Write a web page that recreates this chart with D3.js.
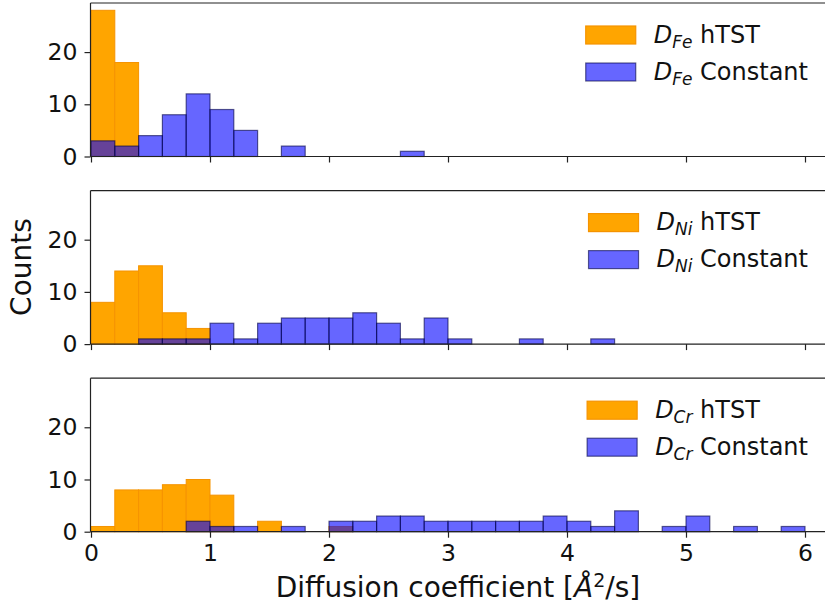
<!DOCTYPE html>
<html><head><meta charset="utf-8">
<script src="https://cdn.jsdelivr.net/npm/d3@7"></script>
<style>body{margin:0;background:#fff}svg{display:block;font-family:"DejaVu Sans",sans-serif}</style>
</head><body><svg id="c" width="825" height="611"></svg>
<script>
const binEdges = d3.range(0, 6.0001, 0.2).map(v => +v.toFixed(1));
const elements = ["Fe", "Ni", "Cr"];
const feHTST  = [28,18,0,0,0,0,0,0,0,0,0,0,0,0,0,0,0,0,0,0,0,0,0,0,0,0,0,0,0,0];
const feConst = [3,2,4,8,12,9,5,0,2,0,0,0,0,1,0,0,0,0,0,0,0,0,0,0,0,0,0,0,0,0];
const niHTST  = [8,14,15,6,3,0,0,0,0,0,0,0,0,0,0,0,0,0,0,0,0,0,0,0,0,0,0,0,0,0];
const niConst = [0,0,1,1,1,4,1,4,5,5,5,6,4,1,5,1,0,0,1,0,0,1,0,0,0,0,0,0,0,0];
const crHTST  = [1,8,8,9,10,7,0,2,0,0,1,0,0,0,0,0,0,0,0,0,0,0,0,0,0,0,0,0,0,0];
const crConst = [0,0,0,0,2,1,1,0,1,0,2,2,3,3,2,2,2,2,2,3,2,1,4,0,1,3,0,1,0,1];
const xTicks = [0,1,2,3,4,5,6];
const yTicks = [0,10,20];
const seriesNames = ["hTST", "Constant"];

const panels = [
  {el: elements[0], h: feHTST, c: feConst},
  {el: elements[1], h: niHTST, c: niConst},
  {el: elements[2], h: crHTST, c: crConst}
];

const svg = d3.select("#c");
const left = 90.5, plotH = 153.5, top0 = 3, step = 187.6;
const x = d3.scaleLinear().domain([0, 6]).range([91, 805]);

panels.forEach((p, i) => {
  const top = top0 + i * step;
  const y = d3.scaleLinear().domain([0, 29.4]).range([top + plotH, top]);
  const g = svg.append("g");
  const bins = binEdges.slice(0, -1).map((b, k) => ({x0: b, x1: binEdges[k + 1], h: p.h[k], c: p.c[k]}));
  g.selectAll("rect.o").data(bins.filter(d => d.h > 0)).join("rect")
    .attr("x", d => x(d.x0)).attr("width", d => x(d.x1) - x(d.x0))
    .attr("y", d => y(d.h)).attr("height", d => y(0) - y(d.h))
    .attr("fill", "#ffa500").attr("stroke", "#f59300").attr("stroke-width", 1);
  g.selectAll("rect.b").data(bins.filter(d => d.c > 0)).join("rect")
    .attr("x", d => x(d.x0)).attr("width", d => x(d.x1) - x(d.x0))
    .attr("y", d => y(d.c)).attr("height", d => y(0) - y(d.c))
    .attr("fill", "#0000ff").attr("fill-opacity", 0.6)
    .attr("stroke", "#000044").attr("stroke-opacity", 0.6).attr("stroke-width", 1.2);

  // spines
  g.append("line").attr("x1", left).attr("x2", 830).attr("y1", top).attr("y2", top).attr("stroke", "#222").attr("stroke-width", 1.2);
  g.append("line").attr("x1", left).attr("x2", left).attr("y1", top).attr("y2", top + plotH).attr("stroke", "#222").attr("stroke-width", 1.2);

  const xa = g.append("g").attr("transform", `translate(0,${top + plotH})`)
    .call(d3.axisBottom(x).tickValues(xTicks).tickSize(6).tickPadding(7).tickFormat(i === 2 ? d3.format("d") : () => ""));
  xa.select(".domain").attr("d", `M${left},0H830`).attr("stroke", "#222").attr("stroke-width", 1.2);
  xa.selectAll(".tick line").attr("stroke", "#222").attr("stroke-width", 1.2);
  xa.selectAll("text").attr("font-size", 23.5).attr("fill", "#111").attr("font-family", "DejaVu Sans");

  const ya = g.append("g").attr("transform", `translate(${left},0)`)
    .call(d3.axisLeft(y).tickValues(yTicks).tickSize(6).tickPadding(7));
  ya.select(".domain").remove();
  ya.selectAll(".tick line").attr("stroke", "#222").attr("stroke-width", 1.2);
  ya.selectAll("text").attr("font-size", 23.5).attr("fill", "#111").attr("font-family", "DejaVu Sans");

  // legend (box right aligned, entries left aligned)
  const rightEdge = 808;
  const rows = [
    {name: seriesNames[0], fill: "#ffa500", fo: 1, stroke: "#f59300", so: 1},
    {name: seriesNames[1], fill: "#0000ff", fo: 0.6, stroke: "#000044", so: 0.6}
  ];
  const texts = rows.map((r, j) => {
    const base = top + 39.5 + j * 37;
    const t = g.append("text").attr("y", base).attr("font-size", 24).attr("fill", "#111");
    t.append("tspan").attr("font-style", "italic").text("D");
    t.append("tspan").attr("font-style", "italic").attr("font-size", 17).attr("dy", 5).text(p.el);
    t.append("tspan").attr("dy", -5).text("\u00a0" + r.name);
    return {t, base, r};
  });
  const maxW = d3.max(texts, d => d.t.node().getComputedTextLength());
  const tx = rightEdge - maxW;
  texts.forEach(({t, base, r}) => {
    t.attr("x", tx);
    g.append("rect").attr("x", tx - 68).attr("y", base - 16.5).attr("width", 50).attr("height", 18)
      .attr("fill", r.fill).attr("fill-opacity", r.fo).attr("stroke", r.stroke).attr("stroke-opacity", r.so).attr("stroke-width", 1.2);
  });
});

svg.append("text").attr("x", 458).attr("y", 597).attr("text-anchor", "middle").attr("font-size", 28).attr("fill", "#111")
  .html('Diffusion coefficient [<tspan font-style="italic">Å</tspan><tspan font-size="19" dy="-10">2</tspan><tspan dy="10">/s]</tspan>');
svg.append("text").attr("transform", "translate(31,267) rotate(-90)").attr("text-anchor", "middle").attr("font-size", 28).attr("fill", "#111").text("Counts");
</script></body></html>
